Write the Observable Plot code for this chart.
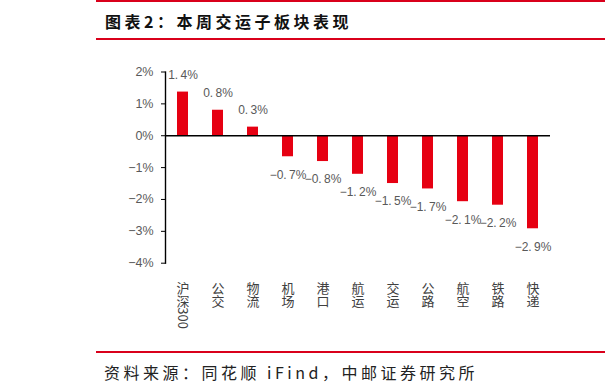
<!DOCTYPE html>
<html>
<head>
<meta charset="utf-8">
<script src="https://cdn.jsdelivr.net/npm/d3@7"></script>
<script src="https://cdn.jsdelivr.net/npm/@observablehq/plot@0.6"></script>
<style>
  html, body { margin: 0; padding: 0; background: #fff; }
  #wrap { position: relative; width: 605px; height: 392px; overflow: hidden; font-family: "Noto Sans CJK SC", sans-serif; }
  .rline { position: absolute; left: 96px; width: 509px; height: 2px; background: #d9001b; }
  #title { position: absolute; left: 105px; top: 9px; font-size: 16px; font-weight: bold; letter-spacing: 3.5px; color: #111; line-height: 24px; white-space: nowrap; }
  #source { position: absolute; left: 104px; top: 360px; font-size: 16px; letter-spacing: 3.5px; color: #222; line-height: 24px; white-space: nowrap; }
  #chart { position: absolute; left: 0; top: 0; }
</style>
</head>
<body>
<div id="wrap">
  <div id="chart"></div>
  <div class="rline" style="top:0px"></div>
  <div id="title">图表2：本周交运子板块表现</div>
  <div class="rline" style="top:38px"></div>
  <div class="rline" style="top:351px"></div>
  <div id="source">资料来源：同花顺 iFind，中邮证券研究所</div>
</div>
<script>
const categories = ["沪深300", "公交", "物流", "机场", "港口", "航运", "交运", "公路", "航空", "铁路", "快递"];
const values = [1.37, 0.80, 0.27, -0.66, -0.81, -1.21, -1.50, -1.67, -2.07, -2.18, -2.92];
const yTicks = [2, 1, 0, -1, -2, -3, -4];

const data = categories.map((c, i) => ({cat: c, value: values[i]}));
const fmtTick = d => (d < 0 ? "\u2212" + Math.abs(d) : d) + "%";
const fmtLabel = d => (d < 0 ? "\u2212" : "") + Math.abs(d).toFixed(1).replace(".", ".\u2009") + "%";

const chart = Plot.plot({
  width: 605,
  height: 392,
  marginTop: 71.5,
  marginBottom: 129.3,
  marginLeft: 165,
  marginRight: 55,
  style: {fontFamily: "'Liberation Sans', Arial, sans-serif", background: "transparent"},
  x: {domain: categories, paddingInner: 0.68, paddingOuter: 0.34, align: 0.5},
  y: {domain: [-4, 2]},
  marks: [
    Plot.barY(data, {x: "cat", y: "value", fill: "#e60012"}),
    Plot.ruleY([0], {stroke: "#000", strokeWidth: 1.4}),
    Plot.frame({anchor: "left", stroke: "#000", strokeWidth: 1.4}),
    Plot.axisY({ticks: yTicks, tickFormat: fmtTick, tickSize: 4, tickPadding: 8, fontSize: 12.5, stroke: "#000", fill: "#595959", label: null}),
    Plot.axisX({tickSize: 0, tickPadding: 9, fontSize: 13, fill: "#404040", label: null}),
    Plot.text(data.filter(d => d.value >= 0), {x: "cat", y: "value", text: d => fmtLabel(d.value), dy: -17, fontSize: 12, fill: "#595959"}),
    Plot.text(data.filter(d => d.value < 0), {x: "cat", y: "value", text: d => fmtLabel(d.value), dy: 18, fontSize: 12, fill: "#595959"})
  ]
});

d3.select(chart).selectAll('g[aria-label="x-axis tick label"] text')
  .attr("writing-mode", "vertical-rl")
  .attr("text-anchor", "start")
  .attr("dy", null)
  .attr("y", 9)
  .style("font-family", "'Noto Sans CJK SC', sans-serif");

document.getElementById("chart").appendChild(chart);
</script>
</body>
</html>
